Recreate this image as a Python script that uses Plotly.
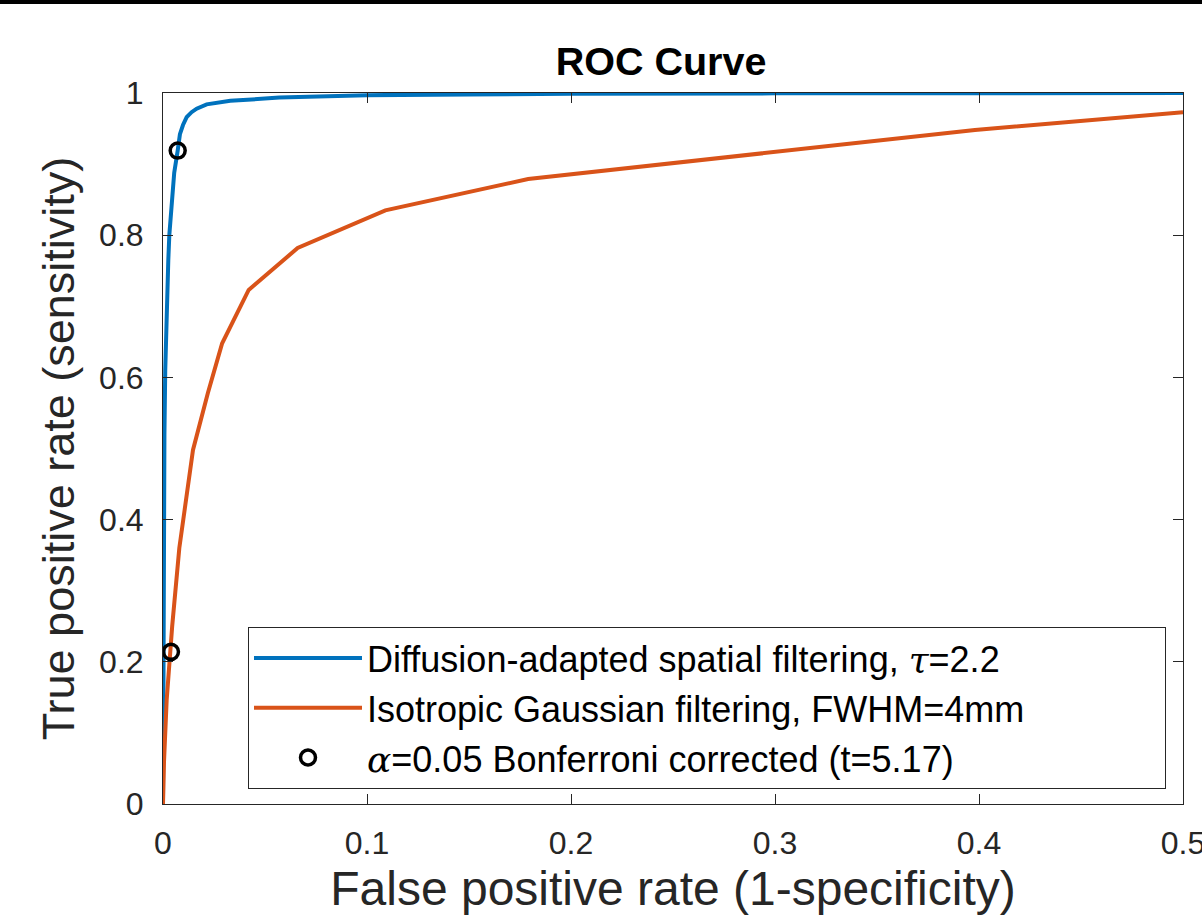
import plotly.graph_objects as go

# ---- data ----
blue_fpr = [0, 0.0001, 0.0002, 0.0004, 0.0007, 0.0011, 0.0016, 0.0021, 0.0026, 0.0031,
            0.0042, 0.0055, 0.0072, 0.0083, 0.0098, 0.0116, 0.0140, 0.0165, 0.0214,
            0.033, 0.057, 0.082, 0.1, 0.15, 0.2, 0.3, 0.4, 0.5]
blue_tpr = [0, 0.10, 0.25, 0.40, 0.52, 0.61, 0.68, 0.73, 0.765, 0.80,
            0.85, 0.888, 0.919, 0.942, 0.955, 0.966, 0.973, 0.978, 0.984,
            0.989, 0.9935, 0.996, 0.997, 0.998, 0.999, 0.9995, 1.0, 1.0]

orange_fpr = [0, 0.0005, 0.0018, 0.0031, 0.0045, 0.008, 0.0147, 0.022, 0.029,
              0.042, 0.066, 0.109, 0.179, 0.398, 0.5]
orange_tpr = [0, 0.06, 0.146, 0.20, 0.25, 0.36, 0.498, 0.578, 0.648,
              0.723, 0.782, 0.835, 0.879, 0.948, 0.973]

bonf_fpr = [0.0072, 0.0039]
bonf_tpr = [0.919, 0.214]

x_ticks = [0, 0.1, 0.2, 0.3, 0.4, 0.5]
x_ticktext = ["0", "0.1", "0.2", "0.3", "0.4", "0.5"]
y_ticks = [0, 0.2, 0.4, 0.6, 0.8, 1.0]
y_ticktext = ["0", "0.2", "0.4", "0.6", "0.8", "1"]

GREEK = "<span style=\"font-family:'DejaVu Serif';font-style:italic\">{}</span>"
NBSP = "\u00a0"
names = [
    "Diffusion-adapted spatial filtering, " + GREEK.format("τ") + "=2.2" + NBSP * 16,
    "Isotropic Gaussian filtering, FWHM=4mm",
    GREEK.format("α") + "=0.05 Bonferroni corrected (t=5.17)",
]

BLUE = "#0072BD"
ORANGE = "#D95319"
AX = "#262626"
FONT = "Liberation Sans, Arial, sans-serif"

fig = go.Figure()
fig.add_trace(go.Scatter(x=blue_fpr, y=blue_tpr, mode="lines", name=names[0],
                         line=dict(color=BLUE, width=4), legendgroup="a"))
fig.add_trace(go.Scatter(x=orange_fpr, y=orange_tpr, mode="lines", name=names[1],
                         line=dict(color=ORANGE, width=4), legendgroup="b"))
fig.add_trace(go.Scatter(x=bonf_fpr, y=bonf_tpr, mode="markers", name=names[2],
                         marker=dict(symbol="circle-open", size=15, color="black",
                                     line=dict(width=3.5, color="black")),
                         legendgroup="c"))

L, R, T, B = 163, 19, 93, 111
W, H = 1202, 915
pw = W - L - R
ph = H - T - B

axis_common = dict(showgrid=False, zeroline=False, showline=True, linecolor=AX,
                   linewidth=1, mirror="ticks", ticks="inside", ticklen=10,
                   tickcolor=AX, tickwidth=1, ticklabeloverflow="allow",
                   automargin=False,
                   tickfont=dict(family=FONT, size=32, color=AX))

fig.update_layout(
    width=W, height=H,
    margin=dict(l=L, r=R, t=T, b=B, autoexpand=False),
    paper_bgcolor="white", plot_bgcolor="white",
    font=dict(family=FONT, color=AX),
    title=dict(text="<b>ROC Curve</b>", x=661 / W, xanchor="center",
               y=1 - 61 / H, yanchor="middle",
               font=dict(family=FONT, size=39.5, color="black")),
    xaxis=dict(range=[0, 0.5], tickvals=x_ticks, ticktext=x_ticktext,
               ticklabelstandoff=11,
               title=dict(text="False positive rate (1-specificity)", standoff=10,
                          font=dict(family=FONT, size=48, color=AX)),
               **axis_common),
    yaxis=dict(range=[0, 1], tickvals=y_ticks, ticktext=y_ticktext,
               ticklabelstandoff=12,
               title=dict(text="True positive rate (sensitivity)", standoff=10,
                          font=dict(family=FONT, size=45, color=AX)),
               **axis_common),
    legend=dict(x=(248 - L) / pw, y=(H - B - 627) / ph, xanchor="left", yanchor="top",
                bgcolor="white", bordercolor=AX, borderwidth=1,
                font=dict(family=FONT, size=36, color="black"),
                itemwidth=108, tracegroupgap=0),
    showlegend=True,
    shapes=[dict(type="rect", xref="paper", yref="paper",
                 x0=-L / pw - 0.01, x1=1 + R / pw + 0.01,
                 y0=1 + (T - 4) / ph, y1=1 + (T + 1) / ph,
                 fillcolor="black", line=dict(width=0), layer="above")],
)

fig.write_html("out.html", config={"displayModeBar": False},
               post_script="document.body.style.margin='0';")
